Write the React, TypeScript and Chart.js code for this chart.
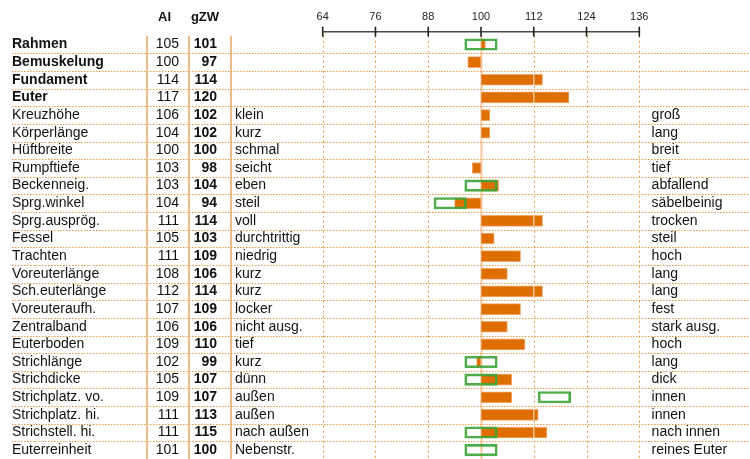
import React, { useEffect, useRef } from 'react';
import { Chart, registerables } from 'chart.js';

Chart.register(...registerables);

const FONT = "'Liberation Sans', Arial, Helvetica, sans-serif";

const traits = [
  'Rahmen', 'Bemuskelung', 'Fundament', 'Euter',
  'Kreuzhöhe', 'Körperlänge', 'Hüftbreite', 'Rumpftiefe', 'Beckenneig.',
  'Sprg.winkel', 'Sprg.ausprög.', 'Fessel', 'Trachten', 'Voreuterlänge',
  'Sch.euterlänge', 'Voreuteraufh.', 'Zentralband', 'Euterboden', 'Strichlänge',
  'Strichdicke', 'Strichplatz. vo.', 'Strichplatz. hi.', 'Strichstell. hi.', 'Euterreinheit',
];
const compositeCount = 4;

const aiValues = [105, 100, 114, 117, 106, 104, 100, 103, 103, 104, 111, 105, 111, 108, 112, 107, 106, 109, 102, 105, 109, 111, 111, 101];
const gzwValues = [101, 97, 114, 120, 102, 102, 100, 98, 104, 94, 114, 103, 109, 106, 114, 109, 106, 110, 99, 107, 107, 113, 115, 100];

const leftPoles = ['', '', '', '', 'klein', 'kurz', 'schmal', 'seicht', 'eben', 'steil', 'voll', 'durchtrittig', 'niedrig', 'kurz', 'kurz', 'locker', 'nicht ausg.', 'tief', 'kurz', 'dünn', 'außen', 'außen', 'nach außen', 'Nebenstr.'];
const rightPoles = ['', '', '', '', 'groß', 'lang', 'breit', 'tief', 'abfallend', 'säbelbeinig', 'trocken', 'steil', 'hoch', 'lang', 'lang', 'fest', 'stark ausg.', 'hoch', 'lang', 'dick', 'innen', 'innen', 'nach innen', 'reines Euter'];

const goalLow: (number | null)[] = [96.3, null, null, null, null, null, null, null, 96.3, 89.3, null, null, null, null, null, null, null, null, 96.3, 96.3, 113, null, 96.3, 96.3];
const goalHigh: (number | null)[] = [103.7, null, null, null, null, null, null, null, 103.7, 96.7, null, null, null, null, null, null, null, null, 103.7, 103.7, 120.4, null, 103.7, 103.7];

const xTicks = [64, 76, 88, 100, 112, 124, 136];
const baseValue = 100;
const headers = ['AI', 'gZW'];

const decorPlugin = {
  id: 'decor',
  beforeDatasetsDraw(chart: any) {
    const { ctx, chartArea, scales } = chart;
    const x = scales.x;
    const y = scales.y;
    ctx.save();
    // horizontal row separators
    ctx.strokeStyle = '#e69b40';
    ctx.lineWidth = 1;
    ctx.setLineDash([1.5, 1.5]);
    for (let i = 1; i < traits.length; i++) {
      const py = Math.round((y.getPixelForValue(i - 1) + y.getPixelForValue(i)) / 2) + 0.5;
      ctx.beginPath();
      ctx.moveTo(scales.y.left, py);
      ctx.lineTo(chart.width, py);
      ctx.stroke();
    }
    // vertical dotted grid
    ctx.setLineDash([2, 3]);
    for (const t of xTicks) {
      const px = Math.round(x.getPixelForValue(t)) + 0.5;
      if (t === baseValue) {
        ctx.save();
        ctx.setLineDash([]);
        ctx.strokeStyle = 'rgba(240,180,125,0.75)';
        ctx.lineWidth = 2;
        ctx.beginPath();
        ctx.moveTo(px, chartArea.top);
        ctx.lineTo(px, chartArea.bottom);
        ctx.stroke();
        ctx.restore();
        continue;
      }
      ctx.beginPath();
      ctx.moveTo(px, chartArea.top);
      ctx.lineTo(px, chartArea.bottom);
      ctx.stroke();
    }
    // solid column dividers
    ctx.setLineDash([]);
    ctx.strokeStyle = '#e9ac6c';
    ctx.lineWidth = 1.6;
    const cols = [scales.yAI.left, scales.yGZW.left, scales.yDesc.left - 4];
    for (const cx of cols) {
      ctx.beginPath();
      ctx.moveTo(cx, chartArea.top);
      ctx.lineTo(cx, chart.height);
      ctx.stroke();
    }
    ctx.restore();
  },
  afterDatasetsDraw(chart: any) {
    const { ctx, scales } = chart;
    const x = scales.x;
    const meta = chart.getDatasetMeta(1);
    ctx.save();
    ctx.fillStyle = 'rgba(255,225,195,0.75)';
    meta.data.forEach((el: any, i: number) => {
      const lo = Math.min(baseValue, gzwValues[i]);
      const hi = Math.max(baseValue, gzwValues[i]);
      const { y: ey, height } = el.getProps(['y', 'height'], true);
      for (const t of xTicks) {
        if (t > lo && t < hi) {
          const px = x.getPixelForValue(t);
          ctx.fillRect(px - 0.75, ey - height / 2, 1.5, height);
        }
      }
    });
    ctx.restore();
  },
  afterDraw(chart: any) {
    const { ctx, chartArea, scales } = chart;
    const x = scales.x;
    ctx.save();
    // top axis line with tick marks
    const ay = chartArea.top - 4;
    ctx.strokeStyle = '#4a4a4a';
    ctx.lineWidth = 1.6;
    ctx.beginPath();
    ctx.moveTo(x.getPixelForValue(xTicks[0]), ay);
    ctx.lineTo(x.getPixelForValue(xTicks[xTicks.length - 1]), ay);
    ctx.stroke();
    ctx.strokeStyle = '#222';
    for (const t of xTicks) {
      const px = x.getPixelForValue(t);
      ctx.beginPath();
      ctx.moveTo(px, ay - 5);
      ctx.lineTo(px, ay + 5);
      ctx.stroke();
    }
    // column headers
    ctx.fillStyle = '#111';
    ctx.font = `bold 13px ${FONT}`;
    ctx.textAlign = 'center';
    ctx.textBaseline = 'middle';
    ctx.fillText(headers[0], scales.yAI.left + 17.5, 17);
    ctx.fillText(headers[1], scales.yGZW.left + 16, 17);
    ctx.restore();
  },
};

export default function App() {
  const ref = useRef<HTMLCanvasElement>(null);
  useEffect(() => {
    const canvas = ref.current!;
    const bars = gzwValues.map((v) => [baseValue, v]);
    const goals = goalLow.map((lo, i) => (lo == null ? null : [lo, goalHigh[i] as number]));
    const catAxis = (labels: string[], weight: number, position: string, width: number, ticks: any) => ({
      type: 'category',
      axis: 'y',
      labels,
      position,
      weight,
      offset: true,
      grid: { display: false, drawTicks: false },
      border: { display: false },
      ticks: { autoSkip: false, color: '#111', ...ticks },
      afterFit: (s: any) => {
        s.width = width;
        s.paddingTop = 0;
        s.paddingBottom = 0;
      },
    });
    const chart = new Chart(canvas, {
      type: 'bar',
      data: {
        labels: traits,
        datasets: [
          {
            label: 'Zuchtziel',
            data: goals as any,
            backgroundColor: 'rgba(0,0,0,0)',
            borderColor: 'rgba(60,165,55,0.9)',
            borderWidth: 2,
            borderSkipped: false,
            barThickness: 11.5,
            grouped: false,
            order: 0,
            xAxisID: 'x',
            yAxisID: 'y',
          },
          {
            label: 'gZW',
            data: bars as any,
            backgroundColor: '#de6e00',
            borderColor: 'rgba(243,168,105,1)',
            borderWidth: 1,
            borderSkipped: false,
            barThickness: 11,
            grouped: false,
            order: 1,
            xAxisID: 'x',
            yAxisID: 'y',
          },
        ],
      },
      options: {
        indexAxis: 'y',
        animation: false,
        responsive: false,
        events: [],
        layout: { padding: { left: 12, right: 0, top: 0, bottom: 0 } },
        plugins: { legend: { display: false }, tooltip: { enabled: false } },
        scales: {
          x: {
            type: 'linear',
            position: 'top',
            min: xTicks[0],
            max: xTicks[xTicks.length - 1],
            afterBuildTicks: (s: any) => { s.ticks = xTicks.map((v) => ({ value: v })); },
            ticks: { color: '#222', font: { family: FONT, size: 11 }, padding: 12.4, maxRotation: 0 },
            grid: { display: false, drawTicks: false },
            border: { display: false },
            afterFit: (s: any) => {
              s.height = 35.7;
              s.paddingLeft = 0;
              s.paddingRight = 0;
            },
          },
          y: catAxis(traits, 4, 'left', 135, {
            crossAlign: 'far',
            padding: 0,
            font: (c: any) => ({ family: FONT, size: 14, weight: c.index < compositeCount ? 'bold' : 'normal' }),
          }),
          yAI: catAxis(aiValues.map(String), 3, 'left', 42, {
            crossAlign: 'near',
            padding: 10,
            font: { family: FONT, size: 14 },
          }),
          yGZW: catAxis(gzwValues.map(String), 2, 'left', 46, {
            crossAlign: 'near',
            padding: 18,
            font: { family: FONT, size: 14, weight: 'bold' },
          }),
          yDesc: catAxis(leftPoles, 1, 'left', 87.7, {
            crossAlign: 'far',
            padding: 0,
            font: { family: FONT, size: 14 },
          }),
          yRight: catAxis(rightPoles, 1, 'right', 110.7, {
            crossAlign: 'near',
            padding: 12.3,
            font: { family: FONT, size: 14 },
          }),
        } as any,
      },
      plugins: [decorPlugin],
    } as any);
    return () => chart.destroy();
  }, []);
  return (
    <div style={{ position: 'absolute', left: 0, top: 0, width: 750, height: 459, background: '#fff' }}>
      <canvas ref={ref} width={750} height={459} style={{ display: 'block' }} />
    </div>
  );
}
